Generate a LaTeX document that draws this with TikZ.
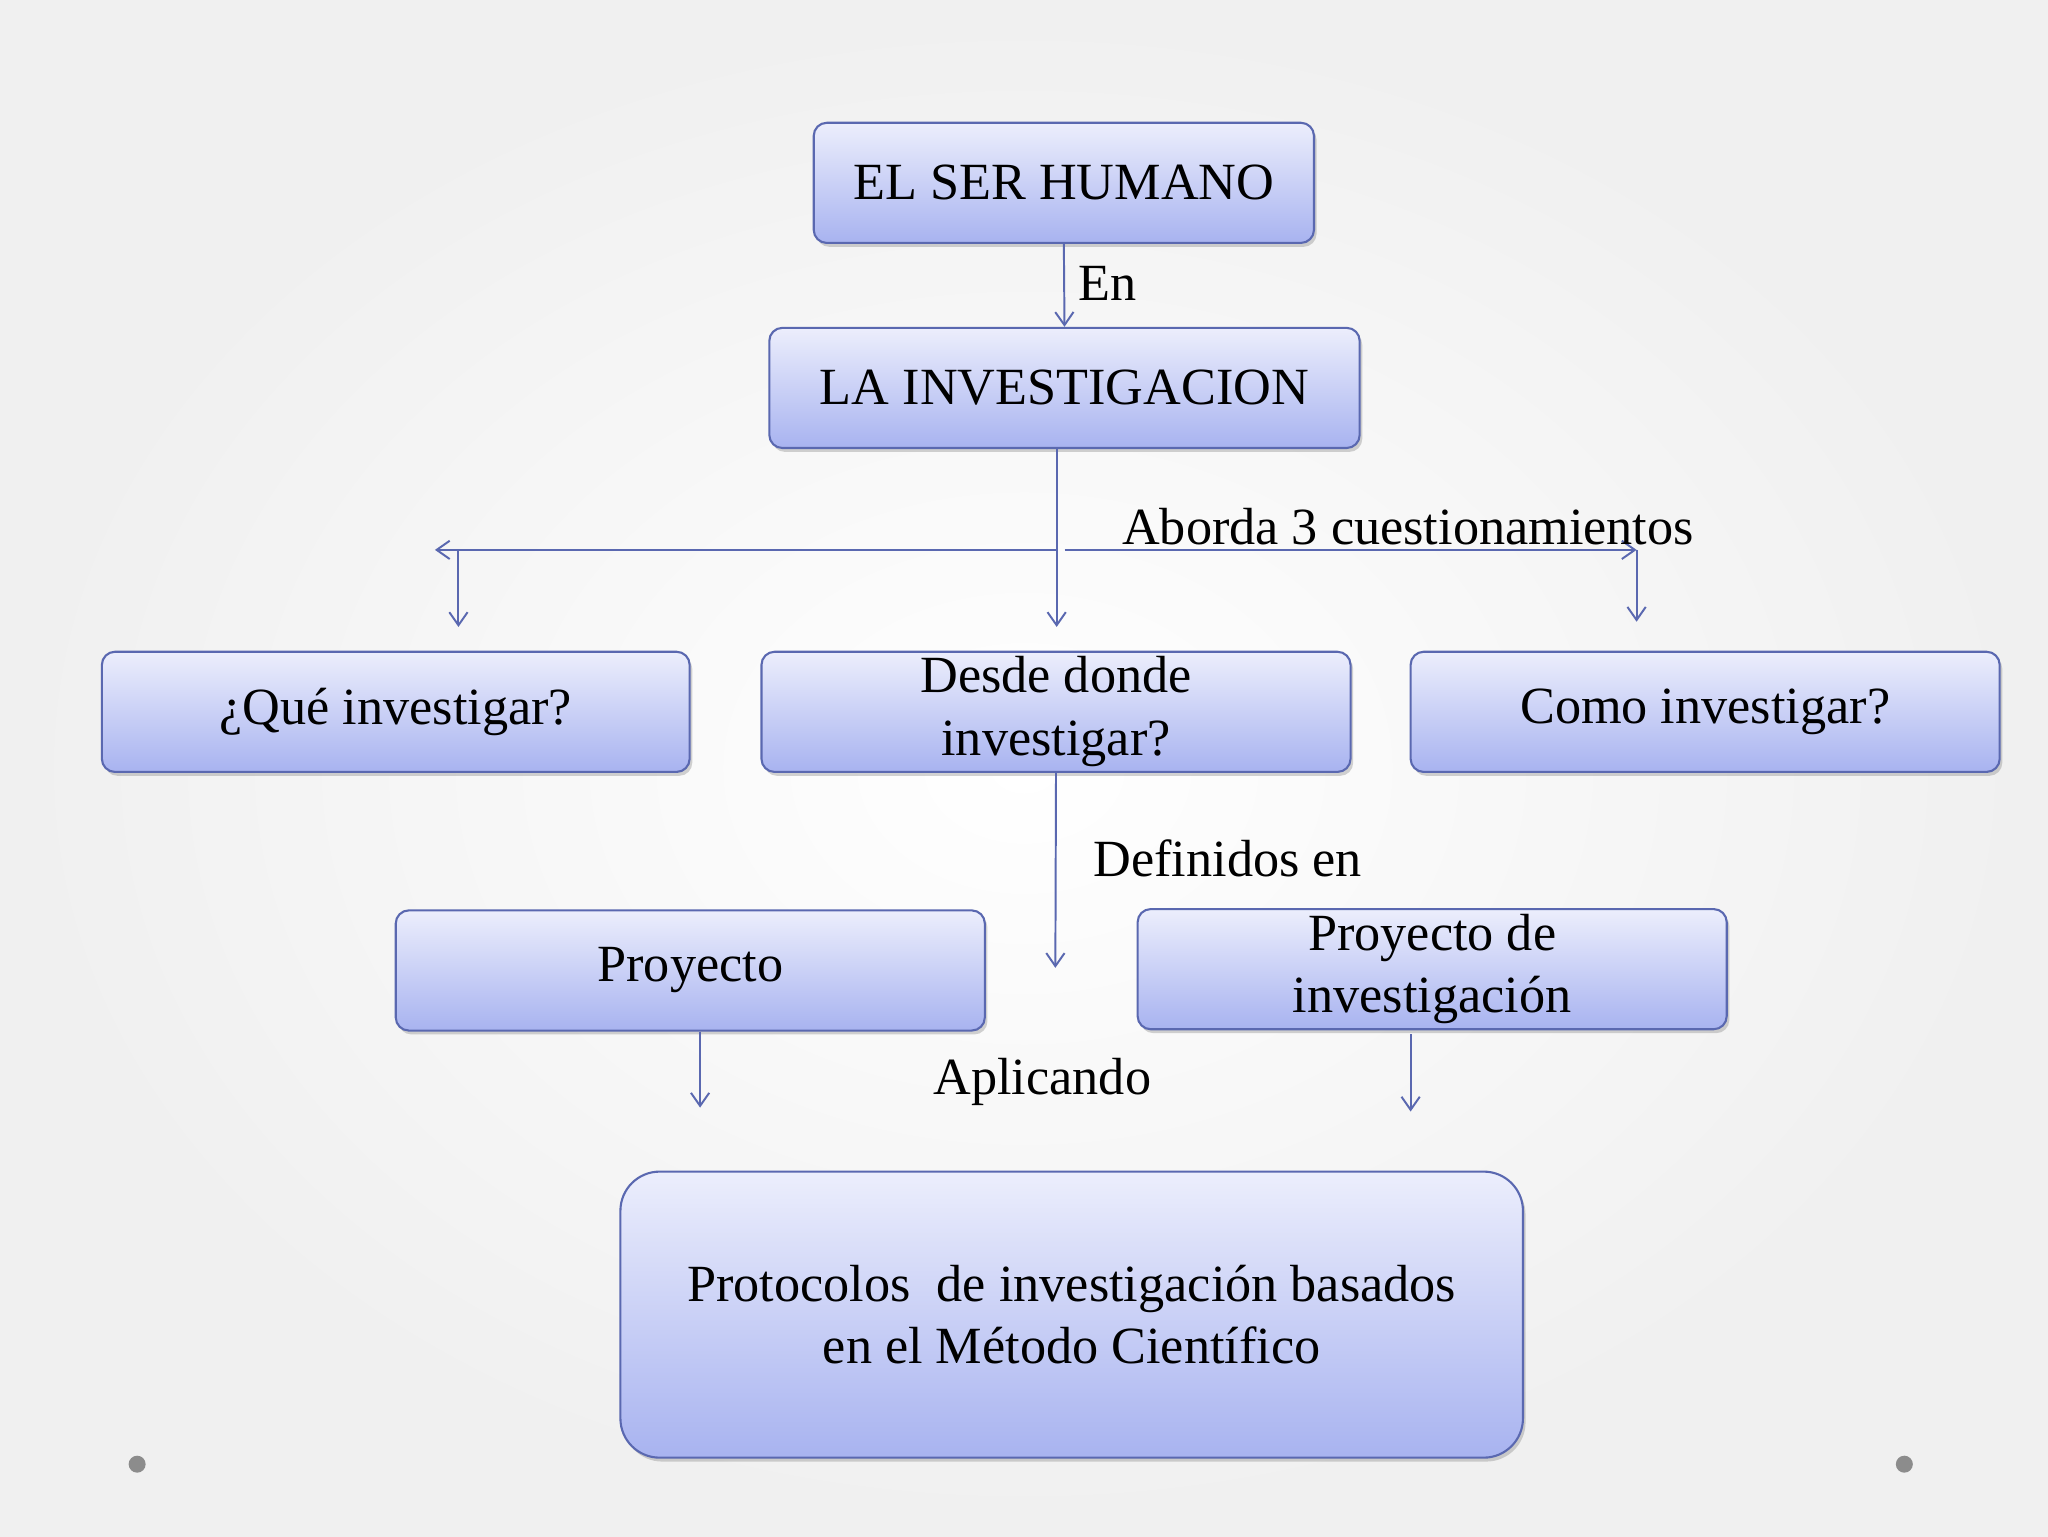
\documentclass[tikz,border=0pt]{standalone}
\usepackage{fontspec}
\setmainfont{Liberation Serif}
\usetikzlibrary{shadows,arrows.meta}
\definecolor{bord}{HTML}{5A68B0}
\definecolor{btop}{HTML}{ECEEFC}
\definecolor{bbot}{HTML}{A8B3F0}
\tikzset{
 box/.style={draw=bord,line width=1.6pt,rounded corners=10pt,top color=btop,bottom color=bbot,
   drop shadow={shadow xshift=2pt,shadow yshift=-3pt,opacity=0.35},align=center,
   font=\fontsize{40}{48}\selectfont,inner sep=0pt},
 con/.style={draw=bord,line width=1.5pt,-{Straight Barb[length=10pt,width=14pt,line width=1.5pt]}},
 lab/.style={font=\fontsize{40}{48}\selectfont,inner sep=0pt}
}
\begin{document}
\begin{tikzpicture}[x=1pt,y=-1pt]
\shade[inner color=white,outer color=black!6] (0,0) rectangle (1568,1176);
\useasboundingbox (0,0) rectangle (1568,1176);
\node[box,minimum width=383pt,minimum height=92pt] (a) at (814.5,140) {EL SER HUMANO};
\node[box,minimum width=452pt,minimum height=92pt] (b) at (815,297) {LA INVESTIGACION};
\node[box,minimum width=450pt,minimum height=92pt] (q1) at (303,545) {¿Qué investigar?};
\node[box,minimum width=451pt,minimum height=92pt] (q2) at (808.5,545) {Desde donde\\investigar?};
\node[box,minimum width=451pt,minimum height=92pt] (q3) at (1305.5,545) {Como investigar?};
\node[box,minimum width=451pt,minimum height=92pt] (p1) at (528.5,743) {Proyecto};
\node[box,minimum width=451pt,minimum height=92pt] (p2) at (1096.5,742) {Proyecto de\\investigación};
\node[box,rounded corners=30pt,minimum width=691pt,minimum height=219pt] (pr) at (820.5,1006.5) {Protocolos\ \ de investigación basados\\en el Método Científico};
\fill[black!45] (105,1121) circle (6.5pt) (1458,1121) circle (6.5pt);
\coordinate (e1) at (809,480);
\coordinate (jl) at (809,421);
\coordinate (l1) at (333,421);
\coordinate (l2) at (351,421);
\coordinate (l3) at (351,480);
\coordinate (r0) at (815,421);
\coordinate (r1) at (1253,421);
\coordinate (r2) at (1253,476);
\coordinate (d1) at (808,741);
\coordinate (s1) at (536,848);
\coordinate (s2) at (1080,851);
\coordinate (t2) at (1080,792);
\draw[con] (a.south) -- (b.north);
\draw[con] (b.south -| e1) -- (e1);
\draw[con] (jl) -- (l1);
\draw[con] (l2) -- (l3);
\draw[con] (r0) -- (r1);
\draw[con] (r1) -- (r2);
\draw[con] (q2.south) -- (d1);
\draw[con] (p1.south -| s1) -- (s1);
\draw[con] (t2) -- (s2);
\node[lab] (la) at (848,217) {En};
\node[lab] (lb) at (1078,403) {Aborda 3 cuestionamientos};
\node[lab] (lc) at (940,657) {Definidos en};
\node[lab] (ld) at (798,828) {Aplicando};
\end{tikzpicture}
\end{document}
